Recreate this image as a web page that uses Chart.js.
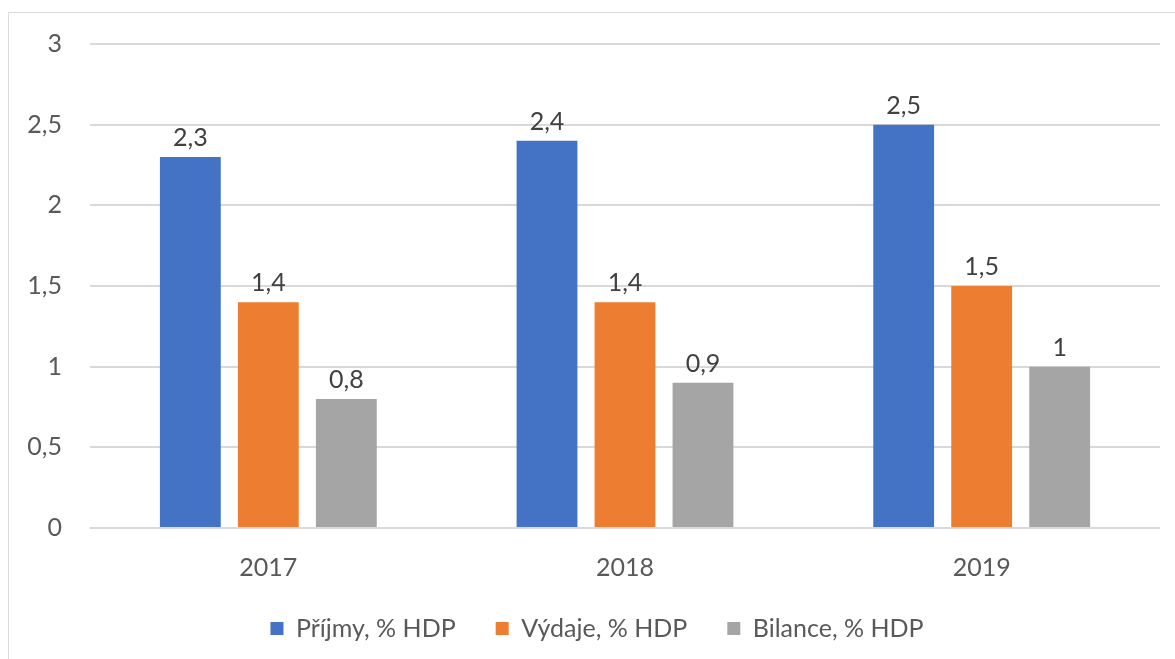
<!DOCTYPE html>
<html lang="cs">
<head>
  <meta charset="UTF-8">
  <title>Příjmy, výdaje a bilance</title>
  <script src="https://cdn.jsdelivr.net/npm/chart.js"></script>
  <style>
    body {
      margin: 0;
      background: #fff;
      font-family: Lato, sans-serif;
    }
    .wrap {
      position: relative;
      width: 1175px;
      height: 659px;
      overflow: hidden;
    }
    .frame {
      position: absolute;
      left: 8px;
      top: 12px;
      width: 1200px;
      height: 700px;
      border: 1px solid #d9d9d9;
    }
    canvas {
      position: absolute;
      left: 0;
      top: 0;
    }
  </style>
</head>
<body>
  <div class="wrap">
    <div class="frame"></div>
    <canvas id="chart" width="1175" height="659"></canvas>
  </div>

  <script>
    const years = ['2017', '2018', '2019'];
    const prijmy = [2.3, 2.4, 2.5];
    const vydaje = [1.4, 1.4, 1.5];
    const bilance = [0.8, 0.9, 1.0];

    const fmt = v => String(v).replace('.', ',');
    const FONT = '25px Lato, sans-serif';

    // popisky hodnot nad sloupci + popisky osy y (osa y je uzka kvuli legende)
    const valueLabels = {
      id: 'valueLabels',
      afterDatasetsDraw(chart) {
        const ctx = chart.ctx;
        ctx.save();
        ctx.font = FONT;
        ctx.fillStyle = '#404040';
        ctx.textAlign = 'center';
        ctx.textBaseline = 'alphabetic';
        chart.data.datasets.forEach((ds, i) => {
          chart.getDatasetMeta(i).data.forEach((bar, j) => {
            ctx.fillText(fmt(ds.data[j]), bar.x, bar.y - 11);
          });
        });

        const y = chart.scales.y;
        ctx.fillStyle = '#595959';
        ctx.textAlign = 'right';
        ctx.textBaseline = 'middle';
        y.ticks.forEach(t => {
          ctx.fillText(fmt(t.value), 62, y.getPixelForValue(t.value));
        });
        ctx.restore();
      }
    };

    const ctx = document.getElementById('chart').getContext('2d');
    new Chart(ctx, {
      type: 'bar',
      data: {
        labels: years,
        datasets: [
          { label: 'Příjmy, % HDP', data: prijmy, backgroundColor: '#4472c4' },
          { label: 'Výdaje, % HDP', data: vydaje, backgroundColor: '#ed7d31' },
          { label: 'Bilance, % HDP', data: bilance, backgroundColor: '#a5a5a5' }
        ]
      },
      options: {
        responsive: false,
        animation: false,
        categoryPercentage: 0.656,
        barPercentage: 0.78,
        layout: { padding: { left: 34, right: 15, top: 44, bottom: 8 } },
        plugins: {
          tooltip: { enabled: false },
          legend: {
            position: 'bottom',
            labels: {
              boxWidth: 13,
              boxHeight: 13,
              padding: 40,
              color: '#595959',
              font: { family: 'Lato, sans-serif', size: 25 }
            }
          }
        },
        scales: {
          x: {
            grid: { display: false },
            border: { display: false },
            ticks: {
              color: '#595959',
              padding: 17,
              font: { family: 'Lato, sans-serif', size: 25 }
            },
            afterFit(scale) { scale.height = 48; }
          },
          y: {
            min: 0,
            max: 3,
            grid: { color: '#d9d9d9', lineWidth: 2, drawTicks: false },
            border: { display: false },
            ticks: { stepSize: 0.5, display: false },
            afterFit(scale) { scale.width = 56; }
          }
        }
      },
      plugins: [valueLabels]
    });
  </script>
</body>
</html>
